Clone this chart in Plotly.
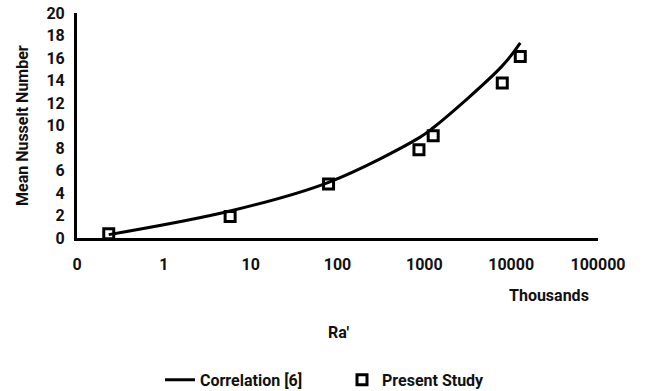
import plotly.graph_objects as go

# Data (Ra' in thousands, log scale)
study_ra = [0.232, 5.8, 78.9, 867, 1265, 7900, 12730]
study_nu = [0.38, 1.92, 4.8, 7.85, 9.09, 13.78, 16.14]

corr_ra = [0.232, 5.8, 78.9, 867, 1265, 7900, 12730]
corr_nu = [0.3, 2.4, 4.95, 8.9, 9.8, 15.3, 17.35]

x_tickvals = [0.1, 1, 10, 100, 1000, 10000, 100000]
x_ticktext = ["0", "1", "10", "100", "1000", "10000", "100000"]
y_tickvals = [0, 2, 4, 6, 8, 10, 12, 14, 16, 18, 20]

FONT = "Roboto, 'Noto Sans', sans-serif"
BF = dict(family=FONT, size=16, color="#111111", weight="bold")

fig = go.Figure()
fig.add_trace(go.Scatter(
    x=corr_ra, y=corr_nu, mode="lines", name="Correlation [6]",
    line=dict(color="black", width=3, shape="spline", smoothing=1.0),
))
fig.add_trace(go.Scatter(
    x=study_ra, y=study_nu, mode="markers", name="Present Study",
    marker=dict(symbol="square-open", size=10, color="black",
                line=dict(color="black", width=3)),
))

fig.update_layout(
    width=647, height=391,
    margin=dict(l=77, r=49, t=13, b=153, autoexpand=False),
    plot_bgcolor="white", paper_bgcolor="white",
    font=BF,
    showlegend=True,
    legend=dict(orientation="h", x=(160 - 77) / 521, xanchor="left", y=-0.63,
                yanchor="middle", font=BF, itemwidth=30, tracegroupgap=0,
                entrywidth=137, entrywidthmode="pixels"),
    xaxis=dict(type="log", range=[-1, 5], tickvals=x_tickvals, ticktext=x_ticktext,
               showgrid=False, zeroline=False, showline=True, linecolor="black",
               linewidth=3, ticks="", ticklabelstandoff=10, automargin=False,
               tickfont=BF),
    yaxis=dict(range=[0, 20], tickvals=y_tickvals, showgrid=False, zeroline=False,
               showline=True, linecolor="black", linewidth=3, ticks="",
               ticklabelstandoff=6, automargin=False, tickfont=BF),
    annotations=[
        dict(text="Mean Nusselt Number", xref="paper", yref="paper",
             x=(22 - 77) / 521, y=(238 - 126) / 225, textangle=-90,
             xanchor="center", yanchor="middle", showarrow=False, font=BF),
        dict(text="Thousands", xref="paper", yref="paper", x=(549 - 77) / 521,
             y=(238 - 295) / 225, xanchor="center", yanchor="middle", showarrow=False,
             font=BF),
        dict(text="Ra'", xref="paper", yref="paper", x=(339 - 77) / 521,
             y=(238 - 332) / 225, xanchor="center", yanchor="middle", showarrow=False,
             font=BF),
    ],
)

fig.write_html("out.html", config={"displayModeBar": False},
               post_script="document.body.style.margin='0';document.body.style.padding='0';")
